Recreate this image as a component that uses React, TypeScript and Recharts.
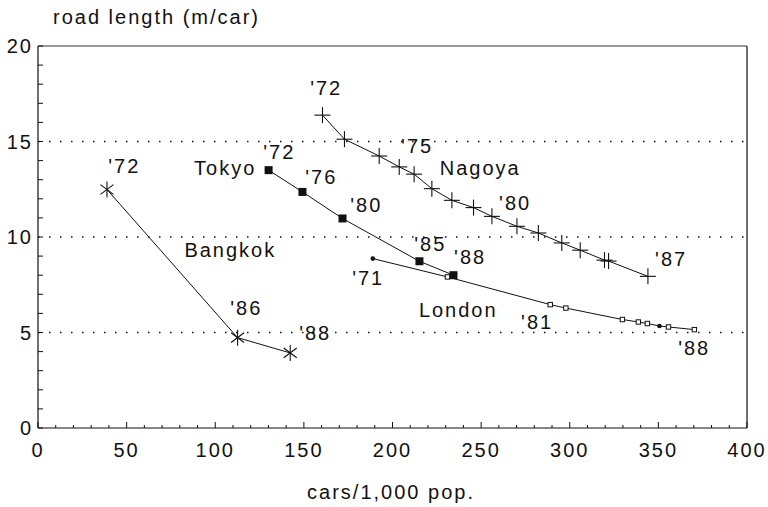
import { ScatterChart, Scatter, XAxis, YAxis, ReferenceLine, ReferenceDot } from 'recharts';

// cars per 1,000 population / road length (m per car)
const bangkokCars = [38.9, 112.6, 142.3];
const bangkokRoad = [12.49, 4.73, 3.93];

const tokyoCars = [130.1, 149.2, 171.8, 215.2, 234.4];
const tokyoRoad = [13.5, 12.36, 10.97, 8.73, 8.0];

const nagoyaCars = [160.5, 172.9, 192.5, 203.8, 212.2, 222.2, 233.5, 245.7, 256.1, 270.2, 282.3, 295.5, 305.9, 319.6, 321.9, 344.1];
const nagoyaRoad = [16.38, 15.12, 14.24, 13.67, 13.29, 12.53, 11.92, 11.54, 11.08, 10.56, 10.21, 9.69, 9.31, 8.79, 8.74, 7.94];

const londonCars = [188.9, 231, 289, 297.8, 329.7, 338.7, 343.8, 350.6, 355.7, 370.3];
const londonRoad = [8.87, 7.91, 6.46, 6.28, 5.68, 5.55, 5.47, 5.34, 5.29, 5.15];
const londonSolid = [188.9, 350.6]; // points drawn as filled dots

const xTicks = [0, 10, 20, 30, 40, 50, 60, 70, 80, 90, 100, 110, 120, 130, 140, 150, 160, 170, 180, 190, 200,
    210, 220, 230, 240, 250, 260, 270, 280, 290, 300, 310, 320, 330, 340, 350, 360, 370, 380, 390, 400];
const yTicks = [0, 1, 2, 3, 4, 5, 6, 7, 8, 9, 10, 11, 12, 13, 14, 15, 16, 17, 18, 19, 20];
const gridLevels = [5, 10, 15];

// text annotations placed in data units
const notes = [
    { x: 48.7, y: 13.7, text: "'72" },
    { x: 117.5, y: 6.27, text: "'86" },
    { x: 156.4, y: 4.96, text: "'88" },
    { x: 108.5, y: 9.31, text: 'Bangkok' },
    { x: 105.6, y: 13.6, text: 'Tokyo' },
    { x: 136.1, y: 14.44, text: "'72" },
    { x: 159.8, y: 13.13, text: "'76" },
    { x: 185.2, y: 11.67, text: "'80" },
    { x: 221.3, y: 9.62, text: "'85" },
    { x: 243.8, y: 8.94, text: "'88" },
    { x: 186.3, y: 7.84, text: "'71" },
    { x: 237.1, y: 6.16, text: 'London' },
    { x: 281.6, y: 5.54, text: "'81" },
    { x: 370.2, y: 4.18, text: "'88" },
    { x: 162.6, y: 17.8, text: "'72" },
    { x: 213.9, y: 14.76, text: "'75" },
    { x: 249.5, y: 13.6, text: 'Nagoya' },
    { x: 269.2, y: 11.77, text: "'80" },
    { x: 357.2, y: 8.84, text: "'87" },
];

const zip = (xs: number[], ys: number[]) => xs.map((x, i) => ({ x, y: ys[i] }));

const INK = '#111';
const FONT = '"Liberation Sans", Arial, sans-serif';
const textStyle = { fontFamily: FONT, fontSize: 20, letterSpacing: 2, fill: INK };

function Asterisk(p: any) {
    const { cx, cy } = p;
    const r = 8, d = 6.5;
    return (
        <g stroke={INK} strokeWidth={1.1}>
            <line x1={cx} y1={cy - r} x2={cx} y2={cy + r} />
            <line x1={cx - d} y1={cy - d * 0.75} x2={cx + d} y2={cy + d * 0.75} />
            <line x1={cx - d} y1={cy + d * 0.75} x2={cx + d} y2={cy - d * 0.75} />
        </g>
    );
}

function Cross(p: any) {
    const { cx, cy } = p;
    const r = 8;
    return (
        <g stroke={INK} strokeWidth={1.1}>
            <line x1={cx - r} y1={cy} x2={cx + r} y2={cy} />
            <line x1={cx} y1={cy - r} x2={cx} y2={cy + r} />
        </g>
    );
}

function Block(p: any) {
    const { cx, cy } = p;
    return <rect x={cx - 4} y={cy - 4} width={8} height={8} fill={INK} />;
}

function SmallMark(p: any) {
    const { cx, cy, payload } = p;
    if (payload && londonSolid.includes(payload.x)) {
        return <circle cx={cx} cy={cy} r={2.3} fill={INK} />;
    }
    return <rect x={cx - 2.2} y={cy - 2.2} width={4.4} height={4.4} fill="#fff" stroke={INK} strokeWidth={1} />;
}

function XTick(p: any) {
    const { x, y, payload } = p;
    const v = payload.value;
    const major = v % 50 === 0;
    return (
        <g>
            <line x1={x} y1={y} x2={x} y2={y - (major ? 6 : 3)} stroke={INK} strokeWidth={1} />
            {major && (
                <text x={x} y={y + 22} textAnchor="middle" dominantBaseline="central" style={textStyle}>
                    {v}
                </text>
            )}
        </g>
    );
}

function YTick(p: any) {
    const { x, y, payload } = p;
    const v = payload.value;
    const major = v % 5 === 0;
    return (
        <g>
            <line x1={x} y1={y} x2={x + 5} y2={y} stroke={INK} strokeWidth={1} />
            {major && (
                <text x={x - 5} y={y} textAnchor="end" dominantBaseline="central" style={textStyle}>
                    {v}
                </text>
            )}
        </g>
    );
}

export default function App() {
    const lineStyle = { stroke: INK, strokeWidth: 1 };
    return (
        <div style={{ position: 'absolute', left: 0, top: 0, width: 768, height: 507, fontFamily: FONT, background: '#fff', overflow: 'hidden' }}>
            <div style={{ position: 'absolute', left: 53, top: 6, fontSize: 20, letterSpacing: 2, lineHeight: '23px', color: INK, whiteSpace: 'nowrap' }}>
                road length (m/car)
            </div>
            <ScatterChart width={768} height={507} margin={{ top: 46, right: 21, bottom: 0, left: 0 }}>
                <XAxis
                    type="number"
                    dataKey="x"
                    domain={[0, 400]}
                    ticks={xTicks}
                    interval={0}
                    height={79}
                    tickSize={0}
                    tickMargin={0}
                    tick={<XTick />}
                    axisLine={{ stroke: INK, strokeWidth: 1.2 }}
                    allowDataOverflow
                />
                <YAxis
                    type="number"
                    dataKey="y"
                    domain={[0, 20]}
                    ticks={yTicks}
                    interval={0}
                    width={38}
                    tickSize={0}
                    tickMargin={0}
                    tick={<YTick />}
                    axisLine={{ stroke: INK, strokeWidth: 1.2 }}
                    allowDataOverflow
                />
                {gridLevels.map((g) => (
                    <ReferenceLine key={g} y={g} stroke={INK} strokeWidth={1.3} strokeDasharray="1.5 9.5" />
                ))}
                <ReferenceLine y={20} stroke="#333" strokeWidth={1.2} />
                <ReferenceLine x={400} stroke="#222" strokeWidth={1.3} />
                <Scatter data={zip(bangkokCars, bangkokRoad)} line={lineStyle} lineType="joint" shape={<Asterisk />} isAnimationActive={false} />
                <Scatter data={zip(tokyoCars, tokyoRoad)} line={lineStyle} lineType="joint" shape={<Block />} isAnimationActive={false} />
                <Scatter data={zip(nagoyaCars, nagoyaRoad)} line={lineStyle} lineType="joint" shape={<Cross />} isAnimationActive={false} />
                <Scatter data={zip(londonCars, londonRoad)} line={lineStyle} lineType="joint" shape={<SmallMark />} isAnimationActive={false} />
                {notes.map((n, i) => (
                    <ReferenceDot
                        key={i}
                        x={n.x}
                        y={n.y}
                        r={0}
                        ifOverflow="visible"
                        shape={(s: any) => (
                            <text x={s.cx} y={s.cy} textAnchor="middle" dominantBaseline="central" style={textStyle}>
                                {n.text}
                            </text>
                        )}
                    />
                ))}
            </ScatterChart>
            <div style={{ position: 'absolute', left: 0, width: 782, top: 481, textAlign: 'center', fontSize: 20, letterSpacing: 2, lineHeight: '23px', color: INK }}>
                cars/1,000 pop.
            </div>
        </div>
    );
}
